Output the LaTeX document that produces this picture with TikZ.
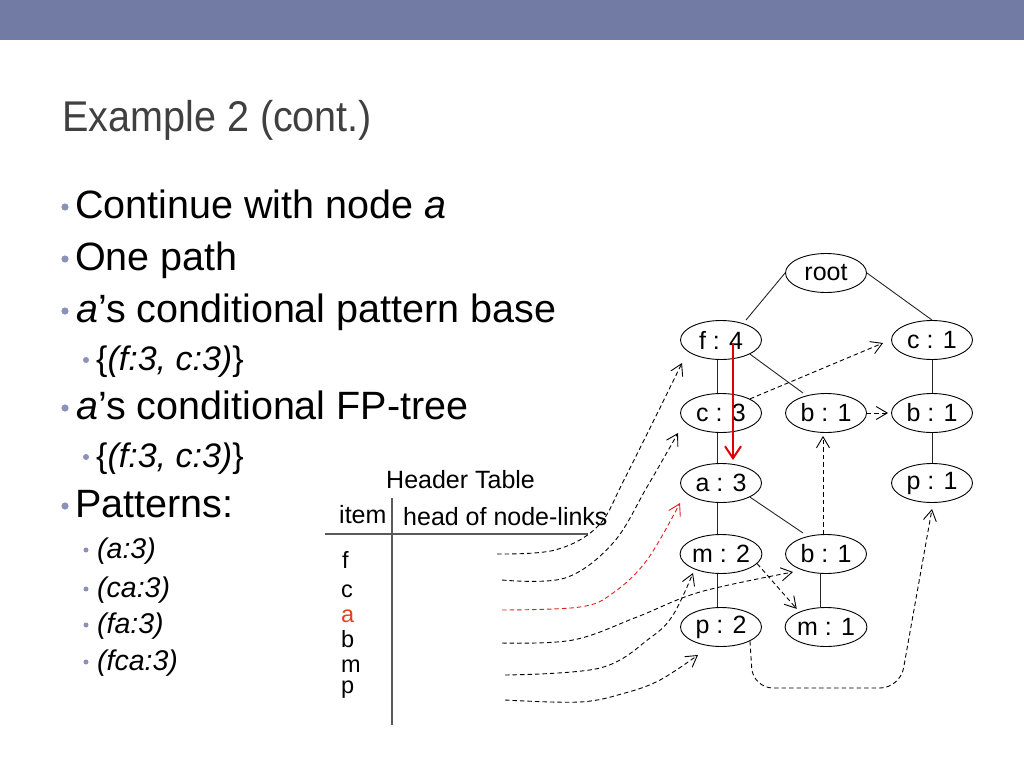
\documentclass[tikz,border=0pt]{standalone}
\usepackage{fontspec}
\setmainfont{Liberation Sans}
\usetikzlibrary{shapes.geometric,arrows.meta,calc}
\definecolor{band}{HTML}{717BA3}
\definecolor{bul}{HTML}{8A92B8}
\definecolor{titlegray}{HTML}{404040}
\definecolor{hred}{HTML}{E8401C}
\definecolor{linkred}{HTML}{E02020}
\definecolor{arrred}{HTML}{E00000}
\definecolor{rulegray}{HTML}{5A5A5A}
\begin{document}
\begin{tikzpicture}[x=1pt,y=-1pt,
  tn/.style={ellipse, draw, line width=0.9pt, minimum width=81pt, minimum height=39pt, inner sep=0pt, font=\fontsize{25}{29}\selectfont},
  treeline/.style={line width=0.9pt, draw=black!85},
  nlink/.style={dash pattern=on 4.5pt off 3pt, line width=0.9pt, -{Straight Barb[length=11pt,width=13pt]}},
  txt/.style={anchor=base west, inner sep=0pt},
  lone/.style={txt, font=\fontsize{39.5}{46}\selectfont},
  ltwo/.style={txt, font=\fontsize{34}{40}\selectfont},
  lthree/.style={txt, font=\fontsize{28.5}{34}\selectfont},
  htab/.style={txt, font=\fontsize{25}{30}\selectfont},
  itm/.style={txt, font=\fontsize{23.5}{28}\selectfont}
]
\useasboundingbox (0,0) rectangle (1024,768);
\fill[white] (0,0) rectangle (1024,768);
\fill[band] (0,0) rectangle (1024,40);

% title
\node[txt, text=titlegray, font=\fontsize{43}{50}\selectfont] (title) at (62,131) {\scalebox{0.92}[1]{Example 2 (cont.)}};

% bullets
\fill[bul] (65,207) circle (3.6pt);
\fill[bul] (65,259) circle (3.6pt);
\fill[bul] (65,311) circle (3.6pt);
\fill[bul] (86,360) circle (3pt);
\fill[bul] (65,408) circle (3.6pt);
\fill[bul] (86,457) circle (3pt);
\fill[bul] (65,506) circle (3.6pt);
\fill[bul] (86,550) circle (2.5pt);
\fill[bul] (86,589) circle (2.5pt);
\fill[bul] (86,625) circle (2.5pt);
\fill[bul] (86,662) circle (2.5pt);

\node[lone] (t1) at (75,218) {Continue with node \textit{a}};
\node[lone] (t2) at (75,270) {One path};
\node[lone] (t3) at (76,322) {\textit{a}’s conditional pattern base};
\node[ltwo] (t4) at (96,370) {\{\textit{(f:3, c:3)}\}};
\node[lone] (t5) at (76,419) {\textit{a}’s conditional FP-tree};
\node[ltwo] (t6) at (96,467) {\{\textit{(f:3, c:3)}\}};
\node[lone] (t7) at (75,517) {Patterns:};
\node[lthree] (t8) at (97,558) {\textit{(a:3)}};
\node[lthree] (t9) at (97,597) {\textit{(ca:3)}};
\node[lthree] (t10) at (97,633) {\textit{(fa:3)}};
\node[lthree] (t11) at (97,670) {\textit{(fca:3)}};

% header table
\node[htab] (ht) at (386,488) {Header Table};
\node[htab] (hi) at (339,523) {item};
\node[htab] (hh) at (403,525) {head of node-links};
\draw[rulegray, line width=1.6pt] (325,534) -- (588,534);
\draw[rulegray, line width=1.6pt] (392,498) -- (392,725);
\node[itm] (if) at (342,568) {f};
\node[itm] (ic) at (341,597) {c};
\node[itm, text=hred] (ia) at (341,622) {a};
\node[itm] (ib) at (341,647) {b};
\node[itm] (im) at (341,672) {m};
\node[itm] (ip) at (341,693) {p};

% tree
\node[tn] (root) at (826,273) {root};
\node[tn] (f4) at (721,340) {f : 4};
\node[tn] (c1) at (932,340) {c : 1};
\node[tn] (c3) at (721,413) {c : 3};
\node[tn] (b1m) at (826,413) {b : 1};
\node[tn] (b1r) at (932,413) {b : 1};
\node[tn] (a3) at (721,483) {a : 3};
\node[tn] (p1) at (932,483) {p : 1};
\node[tn] (m2) at (721,554) {m : 2};
\node[tn] (b1l) at (826,554) {b : 1};
\node[tn] (p2) at (721,627) {p : 2};
\node[tn] (m1) at (826,627) {m : 1};

\draw[treeline] (root.west) -- ($(f4)+(25,-20)$);
\draw[treeline] (root.east) -- (c1.north);
\draw[treeline] ([xshift=-4pt]f4.south) -- ([xshift=-4pt]c3.north);
\draw[treeline] (f4.south east) -- ($(b1m)+(-23,-20)$);
\draw[treeline] ([xshift=-4pt]c3.south) -- ([xshift=-4pt]a3.north);
\draw[treeline] ([xshift=-4pt]a3.south) -- ([xshift=-4pt]m2.north);
\draw[treeline] (a3.south east) -- ($(b1l)+(-23,-21)$);
\draw[treeline] ([xshift=-4pt]m2.south) -- ([xshift=-4pt]p2.north);
\draw[treeline] ([xshift=-6pt]b1l.south) -- ([xshift=-6pt]m1.north);
\draw[treeline] (c1.south) -- (b1r.north);
\draw[treeline] (b1r.south) -- (p1.north);

% node links inside the tree
\draw[nlink] (c3.north east) -- ($(c1.west)+(-8,3)$);
\draw[nlink] (b1m.east) -- ($(b1r.west)+(-3,0)$);
\draw[nlink] ([xshift=-3pt]b1l.north) -- ($(b1m.south)+(-3,3)$);
\draw[nlink] (m2.-15) -- ($(m1.north west)+(0,-4)$);
\coordinate (pc1) at (753,688);
\coordinate (pc2) at (900,688);
\draw[nlink, rounded corners=20pt] (p2.south east) -- (pc1) -- (pc2) -- ($(p1.south)+(0,6)$);

% header links
\coordinate (hf) at (497,554);
\coordinate (hc) at (502,580);
\coordinate (ha) at (502,610);
\coordinate (hb) at (502,643);
\coordinate (hm) at (505,675);
\coordinate (hp) at (505,700);
\coordinate (tf) at ($(f4)+(-39,23)$);
\coordinate (tc) at ($(c3)+(-43,20)$);
\coordinate (ta) at ($(a3)+(-41,20)$);
\coordinate (tb) at ($(b1l)+(-33,18)$);
\coordinate (tm) at ($(m2)+(-28,19)$);
\coordinate (tp) at ($(p2)+(-23,28)$);
\draw[nlink] plot[smooth, tension=0.6] coordinates {(hf) (555,550) (598,526) (625,478) (tf)};
\draw[nlink] plot[smooth, tension=0.6] coordinates {(hc) (565,578) (613,543) (647,487) (tc)};
\draw[nlink, linkred] plot[smooth, tension=0.6] coordinates {(ha) (580,607) (613,593) (647,560) (ta)};
\draw[nlink] plot[smooth, tension=0.6] coordinates {(hb) (573,640) (637,617) (700,592) (tb)};
\draw[nlink] plot[smooth, tension=0.6] coordinates {(hm) (600,668) (650,638) (673,615) (tm)};
\draw[nlink] plot[smooth, tension=0.6] coordinates {(hp) (580,702) (625,693) (660,680) (tp)};

% red path arrow
\draw[line width=2pt, arrred, -{Straight Barb[length=12pt,width=16pt]}] ($(f4)+(12,3)$) -- ($(a3.north)+(12,-3)$);
\end{tikzpicture}
\end{document}
